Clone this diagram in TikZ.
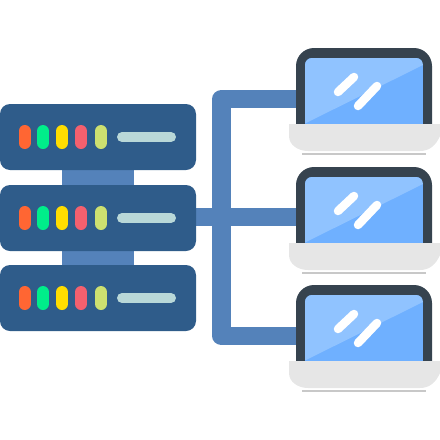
\documentclass[tikz,border=0pt]{standalone}
\definecolor{srv}{HTML}{2F5C8A}
\definecolor{lnk}{HTML}{5482BA}
\definecolor{lOne}{HTML}{FF6633}
\definecolor{lTwo}{HTML}{00EE8A}
\definecolor{lThree}{HTML}{FFDD00}
\definecolor{lFour}{HTML}{F4606E}
\definecolor{lFive}{HTML}{CDE070}
\definecolor{barc}{HTML}{B9D8D8}
\definecolor{scrDark}{HTML}{6FB0FF}
\definecolor{scrLight}{HTML}{90C3FF}
\definecolor{frameC}{HTML}{36434F}
\definecolor{baseC}{HTML}{E6E6E6}
\definecolor{baseLine}{HTML}{C8C8C8}
\tikzset{
  serverbox/.style={fill=srv,rounded corners=10pt,minimum width=196pt,minimum height=66pt,inner sep=0pt,outer sep=0pt,anchor=north west},
  linkbox/.style={fill=lnk,minimum width=72pt,minimum height=17pt,inner sep=0pt,outer sep=0pt},
  lamp/.style={line width=12pt,line cap=round},
  lcdbar/.style={line width=10pt,line cap=round,barc},
  wire/.style={draw=lnk,line width=18.5pt,line join=round},
  glare/.style={white,line width=8.5pt,line cap=round}
}
\newcommand{\serverunit}[2]{%
  \node[serverbox] (#1) at (0,#2) {};
  \foreach \cx/\cc in {24.5/lOne,43/lTwo,62/lThree,81/lFour,101/lFive}
    \draw[lamp,\cc] (\cx,#2+27) -- (\cx,#2+39);
  \draw[lcdbar] (122,#2+33) -- (171,#2+33);
}
\newcommand{\laptopunit}[2]{%
  \fill[frameC] (296,#2+76) -- (296,#2+18) arc[start angle=180,end angle=90,radius=18pt] -- (414,#2) arc[start angle=90,end angle=0,radius=18pt] -- (432,#2+76) -- cycle;
  \begin{scope}
    \clip (305,#2+76) -- (305,#2+17) arc[start angle=180,end angle=90,radius=7pt] -- (416,#2+10) arc[start angle=90,end angle=0,radius=7pt] -- (423,#2+76) -- cycle;
    \fill[scrDark] (305,#2) rectangle (423,#2+76);
    \fill[scrLight] (305,#2) -- (423,#2) -- (423,#2+17) -- (306,#2+75) -- (305,#2+75) -- cycle;
  \end{scope}
  \draw[glare] (338,#2+44) -- (354,#2+29);
  \draw[glare] (358,#2+58) -- (377,#2+38);
  \fill[baseLine] (302,#2+105) rectangle (426,#2+107);
  \fill[baseC] (289,#2+76) -- (440,#2+76) -- (440,#2+88) .. controls (436,#2+97) and (430,#2+103) .. (420,#2+103) -- (308,#2+103) .. controls (298,#2+103) and (289,#2+97) .. (289,#2+88) -- cycle;
}
\begin{document}
\begin{tikzpicture}[x=1pt,y=-1pt]
\useasboundingbox (0,0) rectangle (440,440);
\coordinate (hub) at (221.5,217);
\coordinate (corTop) at (221.5,99);
\coordinate (corBot) at (221.5,336);
\coordinate (srvOut) at (190,217);
\coordinate (lapA) at (300,99);
\coordinate (lapB) at (300,217);
\coordinate (lapC) at (300,336);
\draw[wire] (lapA) -- (corTop) -- (corBot) -- (lapC);
\draw[wire] (srvOut) -- (lapB);
\node[linkbox] (linkA) at (98,177.5) {};
\node[linkbox] (linkB) at (98,257.5) {};
\serverunit{serverA}{104}
\serverunit{serverB}{185}
\serverunit{serverC}{265}
\laptopunit{laptopA}{48}
\laptopunit{laptopB}{167}
\laptopunit{laptopC}{285}
\end{tikzpicture}
\end{document}
